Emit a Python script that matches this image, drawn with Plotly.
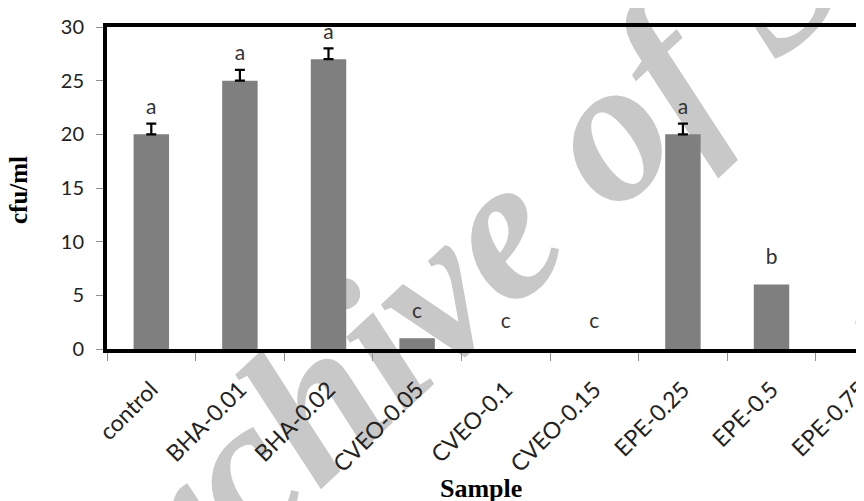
import plotly.graph_objects as go

categories = ["control", "BHA-0.01", "BHA-0.02", "CVEO-0.05", "CVEO-0.1",
              "CVEO-0.15", "EPE-0.25", "EPE-0.5", "EPE-0.75"]
values = [20, 25, 27, 1, 0, 0, 20, 6, 0]
errors = [1, 1, 1, None, None, None, 1, None, None]
letters = ["a", "a", "a", "c", "c", "c", "a", "b", "c"]
y_ticks = [0, 5, 10, 15, 20, 25, 30]

LETTER_OFFSET = 2.4
letter_y = [v + LETTER_OFFSET for v in values]

err_x = [c for c, e in zip(categories, errors) if e is not None]
err_y = [v for v, e in zip(values, errors) if e is not None]
err_v = [e for e in errors if e is not None]

TICK_FONT = "Lato, 'Open Sans', sans-serif"
SERIF = "'Liberation Serif', 'Times New Roman', serif"

fig = go.Figure()
fig.add_trace(go.Bar(
    x=categories, y=values, width=0.4,
    marker=dict(color="#7f7f7f", line=dict(width=0)),
    showlegend=False, hoverinfo="skip",
))
fig.add_trace(go.Scatter(
    x=err_x, y=err_y, mode="markers",
    marker=dict(size=1, opacity=0),
    error_y=dict(type="data", symmetric=False, array=err_v,
                 arrayminus=[0] * len(err_v), color="#000000",
                 thickness=2.2, width=5, visible=True),
    showlegend=False, hoverinfo="skip",
))
fig.add_trace(go.Scatter(
    x=categories, y=letter_y, mode="text", text=letters,
    textposition="middle center",
    textfont=dict(family=TICK_FONT, size=21, color="#333333"),
    cliponaxis=False, showlegend=False, hoverinfo="skip",
))

fig.update_layout(
    width=864, height=501,
    margin=dict(l=99, r=0, t=19, b=160, autoexpand=False),
    paper_bgcolor="white", plot_bgcolor="rgba(0,0,0,0)",
    xaxis=dict(
        type="category", range=[-0.5, 8.134], automargin=False,
        showline=True, linecolor="black", linewidth=4, mirror=True,
        ticks="outside", tickson="boundaries", ticklen=8, tickwidth=1,
        tickcolor="#909090", tickangle=-45, showgrid=False,
        ticklabelstandoff=14,
        tickfont=dict(family=TICK_FONT, size=23, color="#222222"),
    ),
    yaxis=dict(
        range=[0, 30], tickvals=y_ticks, showgrid=False, zeroline=False,
        automargin=False,
        showline=True, linecolor="black", linewidth=4,
        ticks="outside", ticklen=7, tickwidth=1, tickcolor="#909090",
        ticklabelstandoff=8,
        tickfont=dict(family=TICK_FONT, size=20, color="#222222"),
    ),
    shapes=[dict(
        type="rect", xref="paper", yref="paper",
        x0=0.46, x1=0.56, y0=0.416, y1=0.51,
        line=dict(width=0), fillcolor="rgba(0,0,0,0)", layer="below",
        label=dict(text="Archive of SID", textangle=-43,
                   textposition="middle center",
                   font=dict(family=SERIF, size=205, color="#c8c8c8",
                             weight="bold", style="italic")),
    )],
    annotations=[
        dict(text="<b>cfu/ml</b>", xref="paper", yref="paper",
             x=-0.1149, y=0.494, textangle=-90, showarrow=False,
             xanchor="center", yanchor="middle",
             font=dict(family=SERIF, size=25, color="black")),
        dict(text="<b>Sample</b>", xref="paper", yref="paper",
             x=0.4888, y=-0.4317, showarrow=False,
             xanchor="center", yanchor="middle",
             font=dict(family=SERIF, size=26, color="black")),
    ],
)

fig.write_html("out.html")
